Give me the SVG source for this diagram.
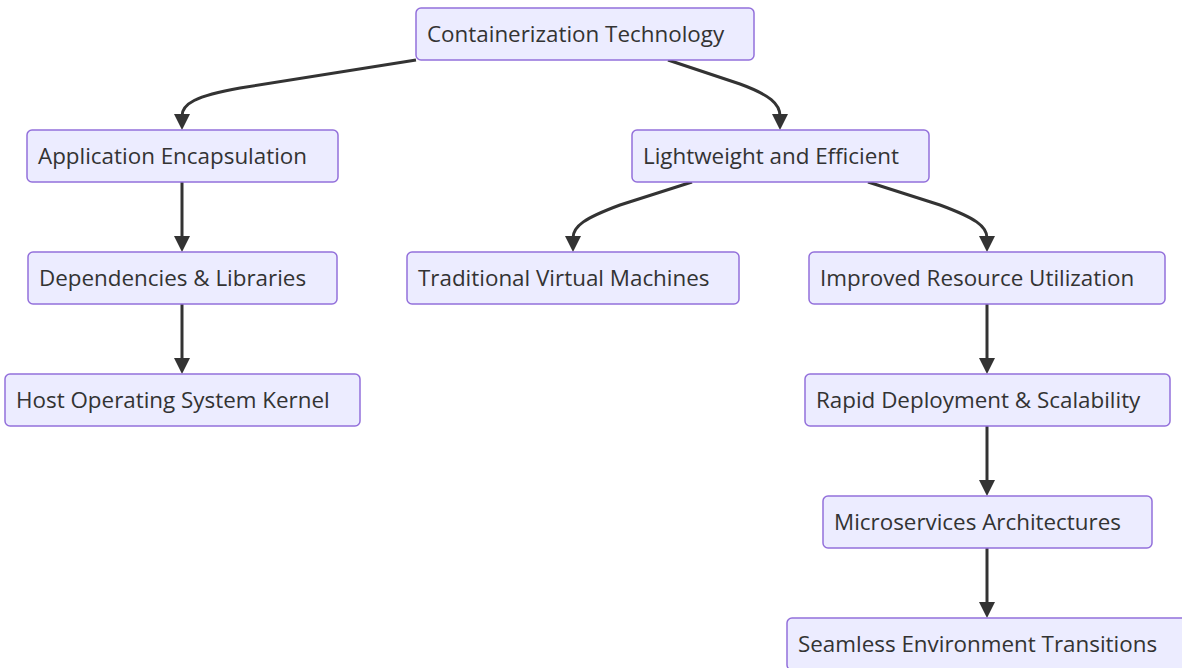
<svg xmlns="http://www.w3.org/2000/svg" width="1182" height="668" viewBox="0 0 1182 668">
  <style>
    .node rect { fill: #ECECFF; stroke: #9370DB; stroke-width: 1.5; }
    .node text { font-family: "Open Sans", "Noto Sans", sans-serif; font-size: 22.4px; fill: #333333; }
    .edge { fill: none; stroke: #333333; stroke-width: 3; }
    .head { fill: #333333; }
  </style>
  <rect width="1182" height="668" fill="#FFFFFF"/>

  <g id="connectors">
    <path class="edge" d="M416,60 L240,88 C195,96 182,104 182,116"/>
    <path class="edge" d="M668,60 L740,84 C770,95 780,104 780,116"/>
    <path class="edge" d="M692,182 L620,205 C585,218 573,226 573,238"/>
    <path class="edge" d="M868,182 L940,205 C975,218 987,226 987,238"/>
    <path class="edge" d="M182,182 L182,238"/>
    <path class="edge" d="M182,304 L182,360"/>
    <path class="edge" d="M987,304 L987,360"/>
    <path class="edge" d="M987,426 L987,482"/>
    <path class="edge" d="M987,548 L987,604"/>
    <path class="head" d="M174,114 L190,114 L182,130 Z"/>
    <path class="head" d="M772,114 L788,114 L780,130 Z"/>
    <path class="head" d="M565,236 L581,236 L573,252 Z"/>
    <path class="head" d="M979,236 L995,236 L987,252 Z"/>
    <path class="head" d="M174,236 L190,236 L182,252 Z"/>
    <path class="head" d="M174,358 L190,358 L182,374 Z"/>
    <path class="head" d="M979,358 L995,358 L987,374 Z"/>
    <path class="head" d="M979,480 L995,480 L987,496 Z"/>
    <path class="head" d="M979,602 L995,602 L987,618 Z"/>
  </g>

  <g id="containerization" class="node">
    <rect x="416" y="8" width="338" height="52" rx="5"/>
    <text x="427" y="42">Containerization Technology</text>
  </g>
  <g id="application" class="node">
    <rect x="27" y="130" width="311" height="52" rx="5"/>
    <text x="38" y="164">Application Encapsulation</text>
  </g>
  <g id="dependencies" class="node">
    <rect x="28" y="252" width="309" height="52" rx="5"/>
    <text x="39" y="286">Dependencies &amp; Libraries</text>
  </g>
  <g id="hostkernel" class="node">
    <rect x="5" y="374" width="355" height="52" rx="5"/>
    <text x="16" y="408">Host Operating System Kernel</text>
  </g>
  <g id="lightweight" class="node">
    <rect x="632" y="130" width="297" height="52" rx="5"/>
    <text x="643" y="164">Lightweight and Efficient</text>
  </g>
  <g id="traditional" class="node">
    <rect x="407" y="252" width="332" height="52" rx="5"/>
    <text x="418" y="286">Traditional Virtual Machines</text>
  </g>
  <g id="improved" class="node">
    <rect x="809" y="252" width="356" height="52" rx="5"/>
    <text x="820" y="286">Improved Resource Utilization</text>
  </g>
  <g id="rapid" class="node">
    <rect x="805" y="374" width="365" height="52" rx="5"/>
    <text x="816" y="408">Rapid Deployment &amp; Scalability</text>
  </g>
  <g id="microservices" class="node">
    <rect x="823" y="496" width="329" height="52" rx="5"/>
    <text x="834" y="530">Microservices Architectures</text>
  </g>
  <g id="seamless" class="node">
    <rect x="787" y="618" width="400" height="52" rx="5"/>
    <text x="798" y="652">Seamless Environment Transitions</text>
  </g>
</svg>
